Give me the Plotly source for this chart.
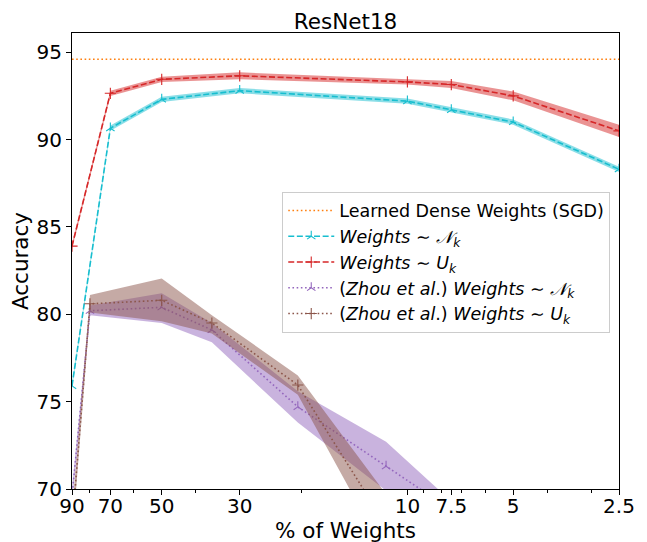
import numpy as np
import plotly.graph_objects as go

# ---------------- data ----------------
x_main = [90, 70, 50, 30, 10, 7.5, 5, 2.5]
acc_normal = [75.9, 90.65, 92.3, 92.8, 92.2, 91.7, 91.0, 88.3]
acc_normal_sd = [0.15, 0.15, 0.15, 0.15, 0.15, 0.15, 0.15, 0.15]
acc_uniform = [83.9, 92.65, 93.45, 93.65, 93.3, 93.15, 92.5, 90.5]
acc_uniform_sd = [0.15, 0.15, 0.15, 0.2, 0.15, 0.2, 0.25, 0.35]
dense_acc = 94.6

x_zhou = [90, 80, 50, 36, 20.5, 11.5, 7.5, 5]
zhou_normal = [69.6, 80.2, 80.4, 79.1, 74.7, 71.3, 68.8, 65.0]
zhou_normal_lo = [69.2, 79.95, 79.5, 78.4, 73.8, 69.9, 68.3, 64.0]
zhou_normal_hi = [70.0, 80.5, 81.2, 79.5, 75.6, 72.7, 69.3, 66.0]
zhou_uniform = [67.8, 80.6, 80.8, 79.5, 75.95, 67.8, 62.0, 58.0]
zhou_uniform_lo = [67.0, 80.1, 79.6, 78.9, 75.4, 66.2, 60.0, 56.0]
zhou_uniform_hi = [68.6, 81.1, 82.05, 79.95, 76.5, 69.7, 64.0, 60.0]

x_ticks = [90, 70, 50, 30, 10, 7.5, 5, 2.5]
x_ticktext = ["90", "70", "50", "30", "10", "7.5", "5", "2.5"]
x_minor = [80, 60, 40, 20, 9, 8, 7, 6, 4, 3]
y_ticks = [70, 75, 80, 85, 90, 95]

# ---------------- style ----------------
ORANGE = "#ff7f0e"
CYAN = "#17becf"
RED = "#d62728"
PURPLE = "#9467bd"
BROWN = "#8c564b"
DASH = "6px,2.6px"
DOT = "1.6px,2.6px"

# the page body has an 8px default margin; compensate so the plot lands where the reference has it
OFF = 8
W, H = 647, 542
ML, MR, MT, MB = 72 - OFF, 28 + OFF, 33 - OFF, 53 + OFF


def rgba(hexc, a):
    h = hexc.lstrip("#")
    r, g, b = int(h[0:2], 16), int(h[2:4], 16), int(h[4:6], 16)
    return f"rgba({r},{g},{b},{a})"


fig = go.Figure()


def band(x, lo, hi, color, alpha=0.5):
    xs = list(x) + list(x)[::-1]
    ys = list(hi) + list(lo)[::-1]
    fig.add_trace(go.Scatter(x=xs, y=ys, fill="toself", fillcolor=rgba(color, alpha),
                             line=dict(width=0), mode="lines", hoverinfo="skip",
                             showlegend=False))


# dense line
fig.add_trace(go.Scatter(x=[x_ticks[0], x_ticks[-1]], y=[dense_acc, dense_acc], mode="lines",
                         line=dict(color=ORANGE, width=1.6, dash=DOT),
                         name="Learned Dense Weights (SGD)"))

# ours normal
lo = [m - s for m, s in zip(acc_normal, acc_normal_sd)]
hi = [m + s for m, s in zip(acc_normal, acc_normal_sd)]
band(x_main, lo, hi, CYAN)
fig.add_trace(go.Scatter(x=x_main, y=acc_normal, mode="lines+markers",
                         line=dict(color=CYAN, width=1.6, dash=DASH),
                         marker=dict(symbol="y-up", size=7, line=dict(color=CYAN, width=1.1)),
                         name="<i>Weights</i> ∼ <i>𝒩<sub>k</sub></i>"))

# ours uniform
lo = [m - s for m, s in zip(acc_uniform, acc_uniform_sd)]
hi = [m + s for m, s in zip(acc_uniform, acc_uniform_sd)]
band(x_main, lo, hi, RED)
fig.add_trace(go.Scatter(x=x_main, y=acc_uniform, mode="lines+markers",
                         line=dict(color=RED, width=1.6, dash=DASH),
                         marker=dict(symbol="cross-thin", size=8, line=dict(color=RED, width=1.1)),
                         name="<i>Weights</i> ∼ <i>U<sub>k</sub></i>"))

# zhou normal
band(x_zhou, zhou_normal_lo, zhou_normal_hi, PURPLE)
fig.add_trace(go.Scatter(x=x_zhou, y=zhou_normal, mode="lines+markers",
                         line=dict(color=PURPLE, width=1.6, dash=DOT),
                         marker=dict(symbol="y-up", size=7, line=dict(color=PURPLE, width=1.1)),
                         name="(<i>Zhou et al</i>.) <i>Weights</i> ∼ <i>𝒩<sub>k</sub></i>"))

# zhou uniform
band(x_zhou, zhou_uniform_lo, zhou_uniform_hi, BROWN)
fig.add_trace(go.Scatter(x=x_zhou, y=zhou_uniform, mode="lines+markers",
                         line=dict(color=BROWN, width=1.6, dash=DOT),
                         marker=dict(symbol="cross-thin", size=8, line=dict(color=BROWN, width=1.1)),
                         name="(<i>Zhou et al</i>.) <i>Weights</i> ∼ <i>U<sub>k</sub></i>"))

fig.update_layout(
    width=W, height=H,
    margin=dict(l=ML, r=MR, t=MT, b=MB, autoexpand=False),
    paper_bgcolor="white", plot_bgcolor="white",
    font=dict(family="DejaVu Sans", size=20, color="black"),
    title=dict(text="ResNet18", x=(ML + (W - MR)) / 2 / W, xanchor="center",
               y=1 - (21 - OFF) / H, yanchor="middle", font=dict(size=21.5)),
    legend=dict(x=0.984, xanchor="right", y=0.652, yanchor="top",
                bgcolor="rgba(255,255,255,0.8)", bordercolor="#cccccc", borderwidth=1,
                font=dict(size=17.5), tracegroupgap=0, itemwidth=46),
    showlegend=True,
)

fig.update_xaxes(type="log", range=[np.log10(90), np.log10(2.5)],
                 tickvals=x_ticks, ticktext=x_ticktext,
                 ticks="outside", ticklen=5, tickwidth=1, tickcolor="black",
                 tickfont=dict(size=20), ticklabelstandoff=-6,
                 showline=True, linecolor="black", linewidth=1, mirror=True,
                 showgrid=False, zeroline=False,
                 title=dict(text="% of Weights", standoff=0, font=dict(size=21.5)),
                 minor=dict(tickvals=x_minor, ticks="outside", ticklen=3, tickcolor="black",
                            showgrid=False))
fig.update_yaxes(range=[70, 96.1], tickvals=y_ticks,
                 ticks="outside", ticklen=5, tickwidth=1, tickcolor="black",
                 tickfont=dict(size=20),
                 showline=True, linecolor="black", linewidth=1, mirror=True,
                 showgrid=False, zeroline=False,
                 title=dict(text="Accuracy", standoff=4, font=dict(size=21.5)))

fig.write_html("out.html")
